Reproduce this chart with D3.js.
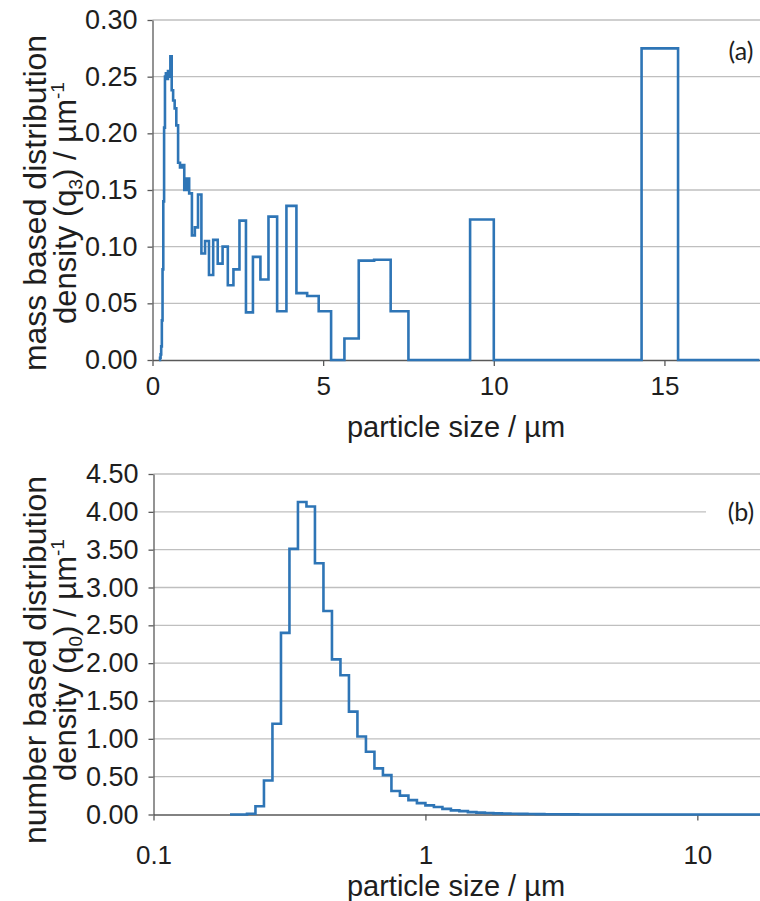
<!DOCTYPE html>
<html>
<head>
<meta charset="utf-8">
<script src="https://cdn.jsdelivr.net/npm/d3@7"></script>
<style>
  html, body { margin: 0; padding: 0; background: #fff; }
  svg { display: block; font-family: "Liberation Sans", Arial, sans-serif; }
</style>
</head>
<body>
<svg id="chart" width="760" height="901"></svg>
<script>
// bin edges of the size classes (µm), shared by both panels
var binEdges = [0.1911, 0.2054, 0.2207, 0.2371, 0.2548, 0.2738, 0.2943, 0.3162, 0.3398, 0.3652,
  0.3924, 0.4217, 0.4532, 0.4870, 0.5233, 0.5623, 0.6043, 0.6494, 0.6978, 0.7499,
  0.8058, 0.8660, 0.9306, 1.0000, 1.0746, 1.1548, 1.2409, 1.3335, 1.4330, 1.5399,
  1.6548, 1.7783, 1.9110, 2.0535, 2.2067, 2.3714, 2.5483, 2.7384, 2.9427, 3.1623,
  3.3982, 3.6517, 3.9242, 4.2170, 4.5316, 4.8697, 5.2330, 5.6234, 6.0430, 6.4938,
  6.9783, 7.4989, 8.0584, 8.6596, 9.3057, 10.0000, 10.7461, 11.5478, 12.4094, 13.3352,
  14.3301, 15.3993, 16.5482, 17.7828];

// (a) mass based density q3, one value per bin
var q3 = [0, 0, 0.002, 0.005, 0.012, 0.035, 0.08, 0.14, 0.205, 0.25,
  0.253, 0.248, 0.255, 0.25, 0.268, 0.238, 0.229, 0.222, 0.207, 0.174,
  0.170, 0.172, 0.150, 0.160, 0.147, 0.110, 0.117, 0.146, 0.094, 0.105,
  0.075, 0.106, 0.085, 0.100, 0.066, 0.080, 0.123, 0.042, 0.091, 0.071,
  0.1265, 0.043, 0.136, 0.059, 0.0565, 0.043, 0, 0.019, 0.0877, 0.0885,
  0.043, 0, 0, 0, 0.124, 0, 0, 0, 0, 0,
  0.275, 0, 0];

// (b) number based density q0, one value per bin
var q0 = [0, 0, 0.01, 0.11, 0.45, 1.20, 2.40, 3.51, 4.13, 4.07,
  3.32, 2.69, 2.05, 1.84, 1.36, 1.03, 0.83, 0.61, 0.52, 0.31,
  0.25, 0.19, 0.15, 0.12, 0.10, 0.075, 0.055, 0.045, 0.032, 0.025,
  0.02, 0.015, 0.012, 0.01, 0.008, 0.006, 0.005, 0.004, 0.003, 0.002,
  0.001, 0, 0, 0, 0, 0, 0, 0, 0, 0,
  0, 0, 0, 0, 0, 0, 0, 0, 0, 0,
  0, 0, 0];

var ticksA_y = [0, 0.05, 0.10, 0.15, 0.20, 0.25, 0.30];
var ticksA_x = [0, 5, 10, 15];
var ticksB_y = [0, 0.5, 1.0, 1.5, 2.0, 2.5, 3.0, 3.5, 4.0, 4.5];
var ticksB_x = [0.1, 1, 10];

(function () {
  "use strict";
  var svg = d3.select("#chart");
  var BLUE = "#2e75b6", GRID = "#bfbfbf", AXIS = "#595959", INK = "#1e1e1e";

  // step points: each bin value starts at its lower edge, last value repeated at the top edge
  function steps(vals) {
    var pts = vals.map(function (v, i) { return [binEdges[i], v]; });
    pts.push([binEdges[vals.length], vals[vals.length - 1]]);
    return pts;
  }

  function panel(o) {
    var g = svg.append("g");
    var x = o.x, y = o.y;
    var x0 = x.range()[0], x1 = x.range()[1];

    g.append("defs").append("clipPath").attr("id", o.id + "-clip")
      .append("rect").attr("x", x0).attr("y", y.range()[1] - 10)
      .attr("width", x1 - x0).attr("height", y.range()[0] - y.range()[1] + 20);

    // horizontal gridlines
    g.append("g").selectAll("line").data(o.yTicks.slice(1)).enter().append("line")
      .attr("x1", x0).attr("x2", x1)
      .attr("y1", function (d) { return y(d); }).attr("y2", function (d) { return y(d); })
      .attr("stroke", GRID).attr("stroke-width", 1.3);

    // y axis
    var ya = g.append("g").attr("transform", "translate(" + x0 + ",0)")
      .call(d3.axisLeft(y).tickValues(o.yTicks).tickFormat(d3.format(o.yFmt))
        .tickSize(5).tickPadding(10).tickSizeOuter(0));
    ya.select(".domain").attr("stroke", AXIS).attr("stroke-width", 1.3);
    ya.selectAll(".tick line").attr("stroke", AXIS).attr("stroke-width", 1.3);
    ya.selectAll(".tick text").attr("fill", INK).attr("font-size", 27)
      .attr("font-family", "Liberation Sans, Arial, sans-serif");

    // x axis
    var xa = g.append("g").attr("transform", "translate(0," + y(0) + ")")
      .call(d3.axisBottom(x).tickValues(o.xTicks).tickFormat(function (d) { return String(d); })
        .tickSize(6).tickPadding(o.xPad).tickSizeOuter(0));
    xa.select(".domain").attr("stroke", AXIS).attr("stroke-width", 1.3);
    xa.selectAll(".tick line").attr("stroke", AXIS).attr("stroke-width", 1.3);
    xa.selectAll(".tick text").attr("fill", INK).attr("font-size", 26)
      .attr("font-family", "Liberation Sans, Arial, sans-serif");

    // the distribution, drawn over the axis
    var line = d3.line().x(function (d) { return x(d[0]); }).y(function (d) { return y(d[1]); })
      .curve(d3.curveStepAfter);
    g.append("path").datum(steps(o.values))
      .attr("clip-path", "url(#" + o.id + "-clip)")
      .attr("d", line).attr("fill", "none").attr("stroke", BLUE)
      .attr("stroke-width", 2.6).attr("stroke-linejoin", "miter");

    // x title
    g.append("text").attr("x", 456).attr("y", o.xTitleY).attr("text-anchor", "middle")
      .attr("font-size", 29).attr("fill", INK).text("particle size / µm");

    // y title, two lines
    var cy = o.yTitleC;
    g.append("text").attr("transform", "translate(46," + cy + ") rotate(-90)")
      .attr("text-anchor", "middle").attr("font-size", 32).attr("fill", INK).text(o.yTitle1);
    var t2 = g.append("text").attr("transform", "translate(76," + cy + ") rotate(-90)")
      .attr("text-anchor", "middle").attr("font-size", 31).attr("fill", INK);
    t2.append("tspan").text("density (q");
    t2.append("tspan").attr("font-size", 19).attr("dy", 6).text(o.sub);
    t2.append("tspan").attr("dy", -6).text(") / µm");
    t2.append("tspan").attr("font-size", 19).attr("dy", -12).text("-1");

    // panel letter
    if (o.letterBox) {
      g.append("rect").attr("x", o.letterBox[0]).attr("y", o.letterBox[1])
        .attr("width", o.letterBox[2]).attr("height", o.letterBox[3]).attr("fill", "#fff");
    }
    g.append("text").attr("x", 741).attr("y", o.letterY).attr("text-anchor", "middle")
      .attr("font-family", "Lato, 'Open Sans', sans-serif").attr("font-size", 25)
      .attr("fill", INK).text(o.letter);
  }

  panel({
    id: "a",
    x: d3.scaleLinear().domain([0, 17.8]).range([152.5, 760]),
    y: d3.scaleLinear().domain([0, 0.30]).range([360, 20]),
    values: q3, yTicks: ticksA_y, xTicks: ticksA_x, yFmt: ".2f", xPad: 11,
    xTitleY: 437, yTitleC: 203,
    yTitle1: "mass based distribution", sub: "3",
    letter: "(a)", letterY: 60
  });

  panel({
    id: "b",
    x: d3.scaleLog().domain([0.1, 17.0]).range([153.5, 760]),
    y: d3.scaleLinear().domain([0, 4.5]).range([814.5, 474]),
    values: q0, yTicks: ticksB_y, xTicks: ticksB_x, yFmt: ".2f", xPad: 25,
    xTitleY: 896, yTitleC: 660,
    yTitle1: "number based distribution", sub: "0",
    letter: "(b)", letterY: 521, letterBox: [706, 498, 54, 28]
  });
})();
</script>
</body>
</html>
